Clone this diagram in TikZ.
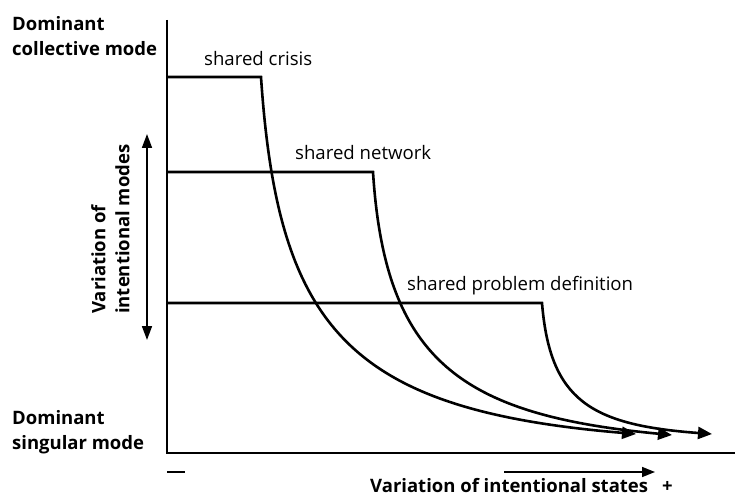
\documentclass[tikz,border=0pt]{standalone}
\usepackage{fontspec}
\setmainfont{Open Sans}
\usetikzlibrary{arrows.meta}
\begin{document}
\begin{tikzpicture}[x=1pt,y=-1pt,
  axis/.style={line width=1.8pt},
  curve/.style={line width=2.6pt,-{Triangle[length=14pt,width=12pt]}},
  lbl/.style={font=\fontsize{18.6}{22}\selectfont,anchor=base west,inner sep=0pt},
  blbl/.style={font=\fontsize{18.5}{25}\selectfont\bfseries,align=left,inner sep=0pt}]
\useasboundingbox (0,0) rectangle (737,500);

% axes
\coordinate (ytop) at (167,20);
\coordinate (orig) at (167,453);
\coordinate (xend) at (735,453);
\draw[axis] (ytop) -- (orig) -- (xend);

% plateau levels and decay curves
\coordinate (c0) at (167,77);  \coordinate (c1) at (261,77);  \coordinate (c2) at (636,434);
\coordinate (n0) at (167,172); \coordinate (n1) at (373,172); \coordinate (n2) at (672,435);
\coordinate (p0) at (167,303); \coordinate (p1) at (542,303); \coordinate (p2) at (712,434);

\draw[curve] (c0) -- (c1) .. controls (278,330) and (350,410) .. (c2);
\draw[curve] (n0) -- (n1) .. controls (385,360) and (460,415) .. (n2);
\draw[curve] (p0) -- (p1) .. controls (550,400) and (590,425) .. (p2);

\node[lbl] (lc) at (204,66) {shared crisis};
\node[lbl] (ln) at (295,160) {shared network};
\node[lbl] (lp) at (407,290) {shared problem definition};

% vertical double arrow
\coordinate (va) at (147,134);
\coordinate (vb) at (147,340);
\draw[line width=1.6pt,{Triangle[length=14pt,width=10pt]}-{Triangle[length=14pt,width=10pt]}] (va) -- (vb);
\node[blbl,rotate=90,anchor=north west,font=\fontsize{18.5}{24}\selectfont\bfseries] (vlab) at (91,314) {Variation of\\intentional modes};

% axis end labels
\node[blbl,anchor=north west] (top) at (12,16) {Dominant\\collective mode};
\node[blbl,anchor=north west] (bot) at (12,410) {Dominant\\singular mode};

% horizontal axis labels
\node[inner sep=0pt,anchor=west] (minus) at (167,472) {\rule{18pt}{1.6pt}};
\coordinate (ha) at (504,472);
\coordinate (hb) at (655,472);
\draw[line width=1.6pt,-{Triangle[length=13pt,width=10pt]}] (ha) -- (hb);
\node[blbl,anchor=base west] (xlab) at (370,492) {Variation of intentional states};
\node[blbl,anchor=base west] (plus) at (662,492) {+};
\end{tikzpicture}
\end{document}
